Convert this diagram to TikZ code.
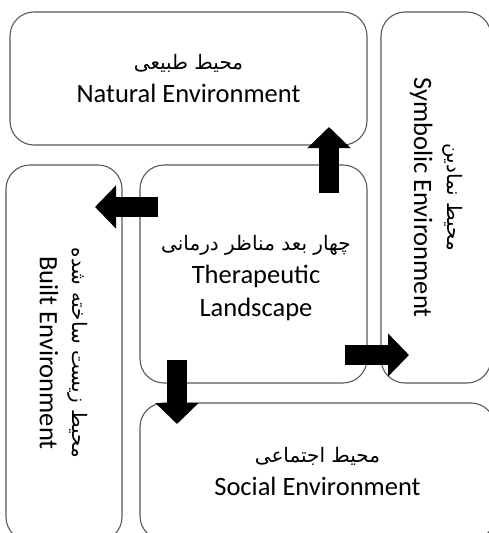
\documentclass[tikz,border=0pt]{standalone}
\usepackage{fontspec}
\setmainfont{Carlito}
\newfontfamily\arabicfont[Script=Arabic]{DejaVu Sans}
\TeXXeTstate=1
\usetikzlibrary{arrows.meta}
\newcommand{\fa}[1]{{\arabicfont\fontsize{20}{24}\selectfont\beginR #1\endR}}
\tikzset{
  envbox/.style={draw=black!65, line width=1.1pt, rounded corners=24pt, fill=white,
    align=center, inner sep=0pt, font=\fontsize{26.5}{33}\selectfont},
  envlabel/.style={align=center, inner sep=0pt, font=\fontsize{26.5}{33}\selectfont},
  blockarrow/.style={line width=20pt, black,
    -{Triangle[width=42pt,length=21pt]}}
}
\begin{document}
\begin{tikzpicture}[x=1pt,y=-1pt]
\clip (0,0) rectangle (489,533);
\fill[white] (0,0) rectangle (489,533);
% boxes
\node[envbox, minimum width=357pt, minimum height=133pt] (nat) at (188.5,78.5)
  {\fa{محیط طبیعی}\\Natural Environment};
\node[envbox, rotate=-90, minimum width=371pt, minimum height=110pt] (sym) at (436,197.5)
  {\fa{محیط نمادین}\\Symbolic Environment};
\node[envbox, rotate=-90, minimum width=376pt, minimum height=116pt] (blt) at (64,353)
  {\fa{محیط زیست ساخته شده}\\Built Environment};
\node[envbox, minimum width=227pt, minimum height=218pt] (ther) at (253.5,274) {};
\node[envlabel] (therlbl) at (256,278)
  {\fa{چهار بعد مناظر درمانی}\\Therapeutic\\Landscape};
\node[envbox, minimum width=355pt, minimum height=137pt] (soc) at (317.5,471.5)
  {\fa{محیط اجتماعی}\\Social Environment};
% arrow end points
\coordinate (upS) at (329,193);
\coordinate (upE) at (329,127);
\coordinate (lfS) at (158,207);
\coordinate (lfE) at (95,207);
\coordinate (rtS) at (345,355);
\coordinate (rtE) at (409,355);
\coordinate (dnS) at (177,360);
\coordinate (dnE) at (177,424);
% arrows
\draw[blockarrow] (upS) -- (upE);
\draw[blockarrow] (lfS) -- (lfE);
\draw[blockarrow] (rtS) -- (rtE);
\draw[blockarrow] (dnS) -- (dnE);
\end{tikzpicture}
\end{document}
